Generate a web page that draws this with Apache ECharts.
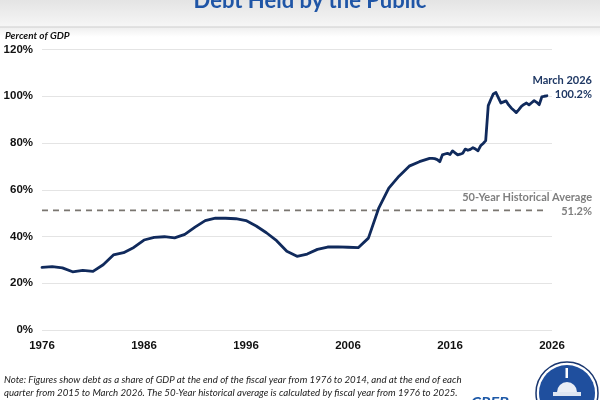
<!DOCTYPE html>
<html>
<head>
<meta charset="utf-8">
<script src="https://cdn.jsdelivr.net/npm/echarts@6/dist/echarts.min.js"></script>
<style>
html,body{margin:0;padding:0;background:#fff;}
#chart{width:600px;height:400px;}
</style>
</head>
<body>
<div id="chart"></div>
<script>
// Annual fiscal-year values 1976..2014 (percent of GDP)
const annualStartYear = 1976;
const annualValues = [26.8, 27.1, 26.6, 24.9, 25.5, 25.1, 27.9, 32.1, 33.1, 35.3,
  38.5, 39.6, 39.9, 39.4, 40.9, 44.0, 46.8, 47.9, 47.8, 47.6,
  46.8, 44.5, 41.6, 38.2, 33.7, 31.5, 32.5, 34.5, 35.5, 35.6,
  35.4, 35.2, 39.3, 52.0, 60.7, 65.8, 70.1, 72.0, 73.4];
// Quarter-end values from Dec 2014 (FY2015 Q1) to March 2026
const quarterStart = { year: 2014, month: 12 };
const quarterValues = [
  73.4, 73.3, 72.9, 72.0,
  74.9, 75.3, 75.6, 75.1,
  76.6, 75.8, 74.9, 75.2,
  75.6, 77.4, 76.9, 77.3,
  78.0, 77.4, 76.7, 78.8,
  79.8, 81.0, 96.0, 98.6,
  101.0, 101.6, 99.3, 97.1,
  97.6, 98.0, 96.3, 95.0,
  94.0, 93.0, 94.3, 95.7,
  96.5, 97.1, 96.3, 97.2,
  98.1, 97.4, 96.4, 99.7,
  100.0, 100.2];
const avgValue = 51.2;
const avgRange = [1976, 2025.5];
const xTicks = { min: 1976, max: 2026, interval: 10 };
const yTicks = { min: 0, max: 120, interval: 20 };
const titleText = 'Debt Held by the Public';
const yUnitText = 'Percent of GDP';
const endLabel = ['March 2026', '100.2%'];
const avgLabel = ['50-Year Historical Average', '51.2%'];
const noteLines = [
  'Note: Figures show debt as a share of GDP at the end of the fiscal year from 1976 to 2014, and at the end of each',
  'quarter from 2015 to March 2026. The 50-Year historical average is calculated by fiscal year from 1976 to 2025.'
];

// Build series data: fiscal year position (Sept end of FY = integer year)
const debtData = [];
annualValues.forEach((v, i) => debtData.push([annualStartYear + i, v]));
quarterValues.forEach((v, i) => {
  const totalMonths = quarterStart.year * 12 + (quarterStart.month - 1) + i * 3;
  const y = Math.floor(totalMonths / 12);
  const m = totalMonths % 12 + 1;
  debtData.push([y + (m - 9) / 12, v]);
});
const avgData = avgRange.map(x => [x, avgValue]);

const chart = echarts.init(document.getElementById('chart'), null, { renderer: 'canvas' });
const lato = 'Lato, "Open Sans", sans-serif';
const arial = '"Liberation Sans", Arial, sans-serif';

chart.setOption({
  animation: false,
  backgroundColor: '#ffffff',
  grid: { left: 42, right: 48, top: 49.5, bottom: 70, containLabel: false },
  xAxis: {
    type: 'value', min: xTicks.min, max: xTicks.max, interval: xTicks.interval,
    axisLine: { show: false }, axisTick: { show: false }, splitLine: { show: false },
    axisLabel: { color: '#111', fontFamily: arial, fontWeight: 'bold', fontSize: 11.5, margin: 10,
      formatter: v => String(v) }
  },
  yAxis: {
    type: 'value', min: yTicks.min, max: yTicks.max, interval: yTicks.interval,
    axisLine: { show: false }, axisTick: { show: false },
    splitLine: { lineStyle: { color: '#e4e4e4', width: 1 } },
    axisLabel: { color: '#111', fontFamily: arial, fontWeight: 'bold', fontSize: 11.5, margin: 9,
      formatter: '{value}%' }
  },
  series: [
    {
      type: 'line', data: avgData, symbol: 'none', silent: true,
      lineStyle: { color: '#7a7670', width: 1.8, type: [6, 5] }, z: 2
    },
    {
      type: 'line', data: debtData, symbol: 'none', smooth: false,
      lineStyle: { color: '#102a5c', width: 2.8, join: 'round', cap: 'round' }, z: 3
    }
  ],
  graphic: [
    { type: 'rect', shape: { x: 0, y: 0, width: 600, height: 27 }, silent: true, z: -1,
      style: { fill: new echarts.graphic.LinearGradient(0, 0, 0, 1, [
        { offset: 0, color: '#e4e4e4' }, { offset: 1, color: '#f6f6f6' }]) } },
    { type: 'rect', shape: { x: 0, y: 27, width: 600, height: 10 }, silent: true, z: -1,
      style: { fill: new echarts.graphic.LinearGradient(0, 0, 0, 1, [
        { offset: 0, color: '#eeeeee' }, { offset: 1, color: '#ffffff' }]) } },
    { type: 'line', shape: { x1: 0, y1: 27, x2: 600, y2: 27 }, silent: true,
      style: { stroke: '#cfcfcf', lineWidth: 1 } },
    { type: 'text', x: 310, y: 12, silent: true,
      style: { text: titleText, fill: '#1f55a6', font: 'bold 22px ' + lato, textAlign: 'center', textVerticalAlign: 'bottom' } },
    { type: 'text', x: 5, y: 36, silent: true,
      style: { text: yUnitText, fill: '#111', font: 'italic bold 10px ' + lato, textAlign: 'left', textVerticalAlign: 'middle' } },
    { type: 'text', x: 592, y: 80, silent: true,
      style: { text: endLabel[0], fill: '#1f3864', font: 'bold 11px ' + lato, textAlign: 'right', textVerticalAlign: 'middle' } },
    { type: 'text', x: 592, y: 94.5, silent: true,
      style: { text: endLabel[1], fill: '#1f3864', font: 'bold 11px ' + lato, textAlign: 'right', textVerticalAlign: 'middle' } },
    { type: 'text', x: 592, y: 197, silent: true,
      style: { text: avgLabel[0], fill: '#7f7f7f', font: 'bold 11px ' + lato, textAlign: 'right', textVerticalAlign: 'middle' } },
    { type: 'text', x: 592, y: 211, silent: true,
      style: { text: avgLabel[1], fill: '#7f7f7f', font: 'bold 11px ' + lato, textAlign: 'right', textVerticalAlign: 'middle' } },
    { type: 'text', x: 4, y: 380, silent: true,
      style: { text: noteLines[0], fill: '#222', font: 'italic 9.7px ' + lato, textAlign: 'left', textVerticalAlign: 'middle' } },
    { type: 'text', x: 4, y: 393, silent: true,
      style: { text: noteLines[1], fill: '#222', font: 'italic 9.7px ' + lato, textAlign: 'left', textVerticalAlign: 'middle' } },
    { type: 'text', x: 471, y: 411, silent: true,
      style: { text: 'CRFB.org', fill: '#1f5aa8', font: 'italic bold 16px ' + lato, textAlign: 'left', textVerticalAlign: 'bottom' } },
    { type: 'circle', shape: { cx: 567, cy: 393, r: 31 }, silent: true,
      style: { fill: '#ffffff', stroke: '#1a3770', lineWidth: 1.5 } },
    { type: 'circle', shape: { cx: 567, cy: 393, r: 28 }, silent: true,
      style: { fill: '#1f4f9e' } },
    { type: 'rect', shape: { x: 565.5, y: 368, width: 2.5, height: 10 }, silent: true,
      style: { fill: '#ffffff' } },
    { type: 'sector', shape: { cx: 567, cy: 392, r: 10, startAngle: Math.PI, endAngle: 2 * Math.PI }, silent: true,
      style: { fill: 'rgba(255,255,255,0.9)' } },
    { type: 'rect', shape: { x: 553, y: 392, width: 28, height: 4 }, silent: true,
      style: { fill: 'rgba(255,255,255,0.85)' } }
  ]
});
</script>
</body>
</html>
